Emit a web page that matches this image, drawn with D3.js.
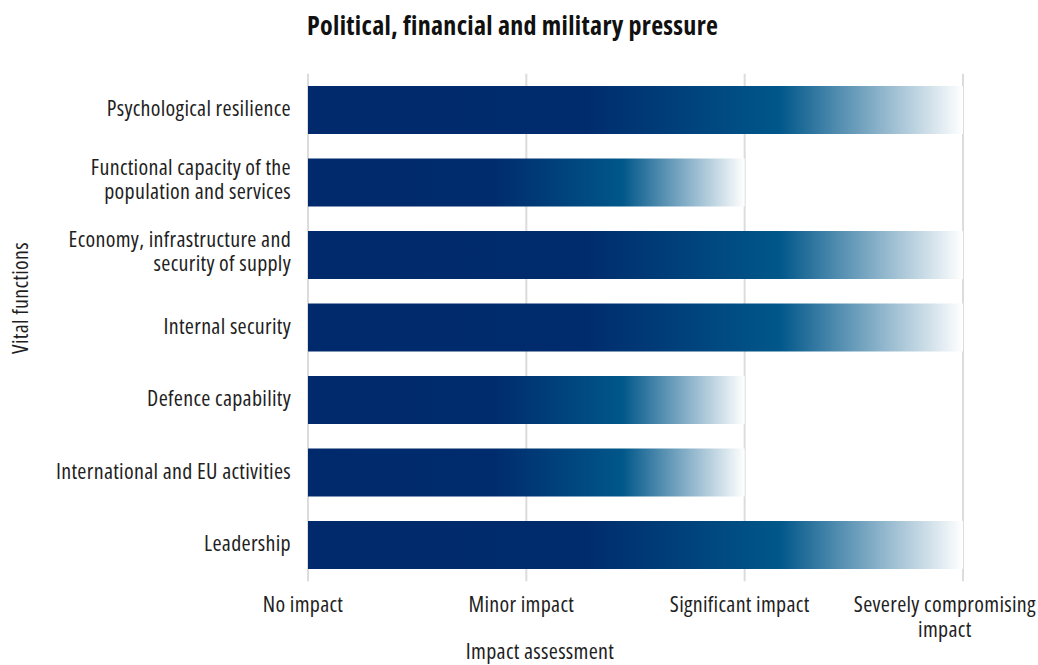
<!DOCTYPE html>
<html>
<head>
<meta charset="utf-8">
<script src="https://cdn.jsdelivr.net/npm/d3@7"></script>
<style>
  html, body { margin: 0; padding: 0; background: #ffffff; }
  svg { display: block; font-family: "Open Sans", sans-serif; font-stretch: 75%; letter-spacing: 0.3px; }
</style>
</head>
<body>
<svg id="chart" width="1038" height="665"></svg>
<script>
// Vital functions (top to bottom) and their assessed impact level (0..3)
const functions = [
  ["Psychological resilience"],
  ["Functional capacity of the", "population and services"],
  ["Economy, infrastructure and", "security of supply"],
  ["Internal security"],
  ["Defence capability"],
  ["International and EU activities"],
  ["Leadership"]
];
const impactValues = [3, 2, 3, 3, 2, 2, 3];
const impactLevels = [
  ["No impact"],
  ["Minor impact"],
  ["Significant impact"],
  ["Severely compromising", "impact"]
];
const chartTitle = "Political, financial and military pressure";
const xTitle = "Impact assessment";
const yTitle = "Vital functions";

const W = 1038;
const svg = d3.select("#chart");
const keys = functions.map(d => d.join(" "));

const x = d3.scaleLinear().domain([0, 3]).range([308, 963]);
const y = d3.scaleBand().domain(keys).range([73.75, 581.25])
  .paddingInner(0.338).paddingOuter(0.169);

// Horizontal fade used by every bar
const defs = svg.append("defs");
const grad = defs.append("linearGradient").attr("id", "barFade")
  .attr("x1", "0%").attr("x2", "100%").attr("y1", "0%").attr("y2", "0%");
[[0, "#002a6b"], [0.42, "#002b6c"], [0.72, "#00578a"], [1, "#ffffff"]]
  .forEach(([o, c]) => grad.append("stop").attr("offset", o).attr("stop-color", c));

// Vertical gridlines at each impact level
const gy0 = y.range()[0], gy1 = y.range()[1];
svg.append("g").selectAll("line").data(d3.range(impactLevels.length)).join("line")
  .attr("x1", d => x(d)).attr("x2", d => x(d))
  .attr("y1", gy0).attr("y2", gy1)
  .attr("stroke", "#dcdcdc").attr("stroke-width", 2);

// Bars
svg.append("g").selectAll("rect").data(keys).join("rect")
  .attr("x", x(0))
  .attr("y", d => y(d))
  .attr("width", (d, i) => x(impactValues[i]) - x(0))
  .attr("height", y.bandwidth())
  .attr("fill", "url(#barFade)");

// X tick labels, centred under their gridline but kept inside the canvas
const xt = svg.append("g").selectAll("text").data(impactLevels).join("text")
  .attr("x", (d, i) => x(i) - 5).attr("y", 612)
  .attr("text-anchor", "middle").attr("font-size", 22).attr("fill", "#1f1f1f");
xt.selectAll("tspan").data(d => d).join("tspan")
  .attr("x", function () { return d3.select(this.parentNode).attr("x"); })
  .attr("dy", (d, i) => i === 0 ? 0 : 25)
  .text(d => d);
xt.each(function () {
  const t = d3.select(this);
  const b = this.getBBox();
  const over = b.x + b.width - (W - 2);
  if (over > 0) {
    const nx = +t.attr("x") - over;
    t.attr("x", nx);
    t.selectAll("tspan").attr("x", nx);
  }
});

// Y category labels
const yt = svg.append("g").selectAll("text").data(functions).join("text")
  .attr("x", 291)
  .attr("y", (d, i) => y(keys[i]) + y.bandwidth() / 2 + 6 - (d.length - 1) * 14)
  .attr("text-anchor", "end").attr("font-size", 22).attr("fill", "#1f1f1f");
yt.selectAll("tspan").data(d => d).join("tspan")
  .attr("x", 291)
  .attr("dy", (d, i) => i === 0 ? 0 : 24)
  .text(d => d);

// Titles
svg.append("text").attr("x", 307).attr("y", 35)
  .attr("font-size", 26).attr("font-weight", "bold").attr("fill", "#111")
  .text(chartTitle);
svg.append("text").attr("x", 540).attr("y", 659)
  .attr("text-anchor", "middle").attr("font-size", 22).attr("fill", "#1f1f1f")
  .text(xTitle);
svg.append("text").attr("transform", "translate(28,298) rotate(-90)")
  .attr("text-anchor", "middle").attr("font-size", 22).attr("fill", "#1f1f1f")
  .text(yTitle);
</script>
</body>
</html>
